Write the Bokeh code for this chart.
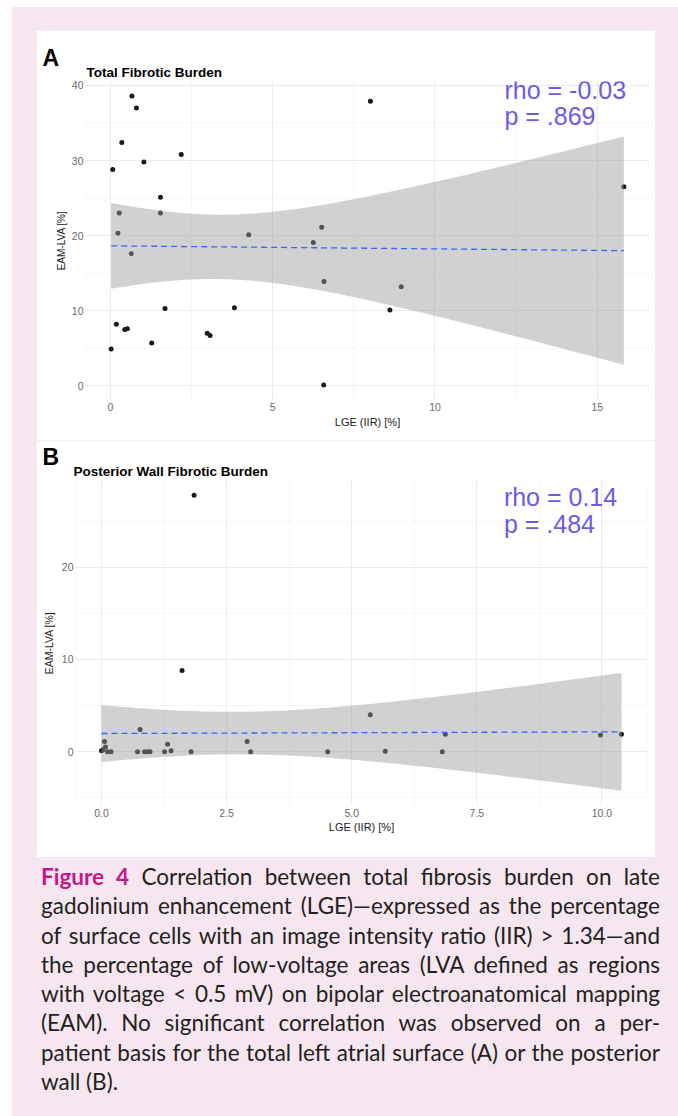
import numpy as np
from math import gamma, sqrt, pi
from bokeh.plotting import figure
from bokeh.models import Label, FixedTicker, Div, Spacer, Range1d, Title
from bokeh.layouts import column, row
from bokeh.embed import file_html
from bokeh.resources import INLINE

# ---------------- data ----------------
# Panel A: Total Fibrotic Burden
a_lge = [0.66, 0.80, 0.35, 0.07, 1.03, 2.18, 1.54, 1.54, 0.27, 0.23, 0.64, 4.26, 6.25, 6.51, 6.58,
         1.68, 3.82, 0.18, 0.44, 0.52, 2.98, 3.07, 1.27, 0.02, 6.57, 8.01, 15.82, 8.96, 8.61]
a_lva = [38.6, 37.0, 32.4, 28.8, 29.8, 30.8, 25.1, 23.0, 23.0, 20.3, 17.6, 20.1, 19.1, 21.1, 13.9,
         10.3, 10.4, 8.2, 7.5, 7.6, 7.0, 6.7, 5.7, 4.9, 0.1, 37.9, 26.5, 13.2, 10.1]
a_xticks = [0, 5, 10, 15]
a_xtick_labels = ["0", "5", "10", "15"]
a_xminor = [2.5, 7.5, 12.5]
a_yticks = [0, 10, 20, 30, 40]
a_ytick_labels = ["0", "10", "20", "30", "40"]
a_yminor = [5, 15, 25, 35]
a_stats = ["rho = -0.03", "p = .869"]

# Panel B: Posterior Wall Fibrotic Burden
b_lge = [0.00, 0.03, 0.06, 0.08, 0.12, 0.19, 0.72, 0.77, 0.86, 0.92, 0.97, 1.26, 1.32, 1.39,
         1.61, 1.79, 1.85, 2.91, 2.98, 4.52, 5.37, 5.67, 6.81, 6.87, 9.97, 10.39]
b_lva = [0.1, 0.2, 1.1, 0.5, 0.0, 0.0, 0.0, 2.4, 0.0, 0.0, 0.0, 0.0, 0.8, 0.1,
         8.8, 0.0, 27.8, 1.1, 0.0, 0.0, 4.0, 0.05, 0.0, 1.9, 1.8, 1.9]
b_xticks = [0, 2.5, 5, 7.5, 10]
b_xtick_labels = ["0.0", "2.5", "5.0", "7.5", "10.0"]
b_xminor = [1.25, 3.75, 6.25, 8.75]
b_yticks = [0, 10, 20]
b_ytick_labels = ["0", "10", "20"]
b_yminor = [-5, 5, 15, 25]
b_stats = ["rho = 0.14", "p = .484"]

caption_lines = [
    '<span style="color:#c5168c;font-weight:bold;">Figure 4</span> Correlation between total fibrosis burden on late',
    'gadolinium enhancement (LGE)\u2014expressed as the percentage',
    'of surface cells with an image intensity ratio (IIR) &gt; 1.34\u2014and',
    'the percentage of low-voltage areas (LVA defined as regions',
    'with voltage &lt; 0.5 mV) on bipolar electroanatomical mapping',
    '(EAM). No significant correlation was observed on a per-',
    'patient basis for the total left atrial surface (A) or the posterior',
    'wall (B).',
]

FONT = "Liberation Sans"
STAT_COLOR = "#6b5be6"
PINK = "#f6e6f0"


def t_quantile(p, df):
    c = gamma((df + 1) / 2) / (sqrt(df * pi) * gamma(df / 2))

    def cdf(t):
        xs = np.linspace(0, t, 4001)
        return 0.5 + np.trapezoid(c * (1 + xs ** 2 / df) ** (-(df + 1) / 2), xs)

    lo, hi = 0.0, 20.0
    for _ in range(80):
        mid = (lo + hi) / 2
        if cdf(mid) < p:
            lo = mid
        else:
            hi = mid
    return (lo + hi) / 2


def lm_band(x, y):
    x = np.asarray(x, float)
    y = np.asarray(y, float)
    n = len(x)
    xbar = x.mean()
    sxx = ((x - xbar) ** 2).sum()
    b1 = ((x - xbar) * (y - y.mean())).sum() / sxx
    b0 = y.mean() - b1 * xbar
    s = sqrt(((y - (b0 + b1 * x)) ** 2).sum() / (n - 2))
    gx = np.linspace(x.min(), x.max(), 120)
    fit = b0 + b1 * gx
    se = s * np.sqrt(1 / n + (gx - xbar) ** 2 / sxx)
    t = t_quantile(0.975, n - 2)
    return gx, fit, fit - t * se, fit + t * se


def make_panel(xs, ys, xticks, xlabels, xminor, yticks, ylabels, yminor,
               stats, stat_x, stat_y, stat_dy, letter, title,
               height, borders, letter_off, title_off, letter_standoff, title_standoff,
               ytitle_size, ylab_standoff, xlab_standoff, xtitle_standoff):
    gx, fit, lower, upper = lm_band(xs, ys)
    xmin, xmax = min(xs), max(xs)
    ymin = min(min(ys), lower.min())
    ymax = max(max(ys), upper.max())
    dx = (xmax - xmin) * 0.05
    dy = (ymax - ymin) * 0.05
    left, right, top, bottom = borders
    p = figure(width=619, height=height,
               x_range=Range1d(xmin - dx, xmax + dx),
               y_range=Range1d(ymin - dy, ymax + dy),
               output_backend="svg", toolbar_location=None,
               min_border_left=left, min_border_right=right,
               min_border_top=top, min_border_bottom=bottom,
               background_fill_color="white", border_fill_color="white")
    p.outline_line_color = None

    xt = FixedTicker(ticks=xticks, minor_ticks=xminor)
    yt = FixedTicker(ticks=yticks, minor_ticks=yminor)
    for ax, tk, labs in ((p.xaxis[0], xt, xlabels), (p.yaxis[0], yt, ylabels)):
        ax.ticker = tk
        ax.major_label_overrides = {t: l for t, l in zip(tk.ticks, labs)}
        ax.axis_line_color = None
        ax.major_tick_line_color = None
        ax.minor_tick_line_color = None
        ax.major_tick_out = 0
        ax.major_tick_in = 0
        ax.minor_tick_out = 0
        ax.minor_tick_in = 0
        ax.major_label_text_font = FONT
        ax.major_label_text_font_size = "10.5px"
        ax.major_label_text_color = "#6b6b6b"
        ax.axis_label_text_font = FONT
        ax.axis_label_text_font_style = "normal"
        ax.axis_label_text_color = "#1a1a1a"
    p.xaxis[0].axis_label = "LGE (IIR) [%]"
    p.xaxis[0].axis_label_text_font_size = "11px"
    p.xaxis[0].major_label_standoff = xlab_standoff
    p.xaxis[0].axis_label_standoff = xtitle_standoff
    p.yaxis[0].axis_label = "EAM-LVA [%]"
    p.yaxis[0].axis_label_text_font_size = ytitle_size
    p.yaxis[0].major_label_standoff = 2
    p.yaxis[0].axis_label_standoff = ylab_standoff

    p.xgrid.ticker = xt
    p.ygrid.ticker = yt
    for g in (p.xgrid, p.ygrid):
        g.grid_line_color = "#ebebeb"
        g.grid_line_width = 1
        g.minor_grid_line_color = "#f4f4f4"
        g.minor_grid_line_width = 0.8

    p.scatter(xs, ys, size=5, color="#1a1a1a", line_color=None)
    p.varea(x=gx, y1=lower, y2=upper, fill_color="#999999", fill_alpha=0.45)
    p.line(gx, fit, line_color="#3366ff", line_width=1.3, line_dash="6 4")

    for i, s in enumerate(stats):
        p.add_layout(Label(x=stat_x, y=stat_y - i * stat_dy, text=s, text_font=FONT,
                           text_font_size="25px", text_color=STAT_COLOR,
                           text_baseline="alphabetic"))
    p.add_layout(Title(text=title, align="left", offset=title_off, standoff=title_standoff,
                       text_font=FONT, text_font_size="13.5px", text_font_style="bold",
                       text_color="black"), "above")
    p.add_layout(Title(text=letter, align="left", offset=letter_off, standoff=letter_standoff,
                       text_font=FONT, text_font_size="23px", text_font_style="bold",
                       text_color="black"), "above")
    return p


pA = make_panel(a_lge, a_lva, a_xticks, a_xtick_labels, a_xminor,
                a_yticks, a_ytick_labels, a_yminor,
                a_stats, 12.14, 39.4, 3.5, "A", "Total Fibrotic Burden",
                height=410, borders=(49, 6, 51, 41), letter_off=-43, title_off=1,
                letter_standoff=-20, title_standoff=4,
                ytitle_size="10px", ylab_standoff=2, xlab_standoff=3, xtitle_standoff=2)

pB = make_panel(b_lge, b_lva, b_xticks, b_xtick_labels, b_xminor,
                b_yticks, b_ytick_labels, b_yminor,
                b_stats, 8.04, 27.6, 2.9, "B", "Posterior Wall Fibrotic Burden",
                height=417, borders=(39, 8, 40, 52), letter_off=-33, title_off=-2,
                letter_standoff=-19, title_standoff=3,
                ytitle_size="10.5px", ylab_standoff=4, xlab_standoff=3, xtitle_standoff=1)

rows_html = []
for i, ln in enumerate(caption_lines):
    last = "justify" if i < len(caption_lines) - 1 else "left"
    rows_html.append(
        f'<div style="text-align:justify;text-align-last:{last};white-space:nowrap;">{ln}</div>')
caption = Div(
    text='<div style="font-family:Lato;font-size:22.5px;line-height:29.3px;color:#231f20;'
         'padding-top:0px;width:619px;">' + "".join(rows_html) + "</div>",
    width=619, height=259)

inner = column(Spacer(width=619, height=23), row(pA), row(pB), caption)
pink = row(Spacer(width=24, height=1109), inner, Spacer(width=23, height=1109),
           styles={"background-color": PINK})
page = column(Spacer(width=678, height=7), row(Spacer(width=12, height=1109), pink))

open("out.html", "w").write(file_html(page, INLINE))
